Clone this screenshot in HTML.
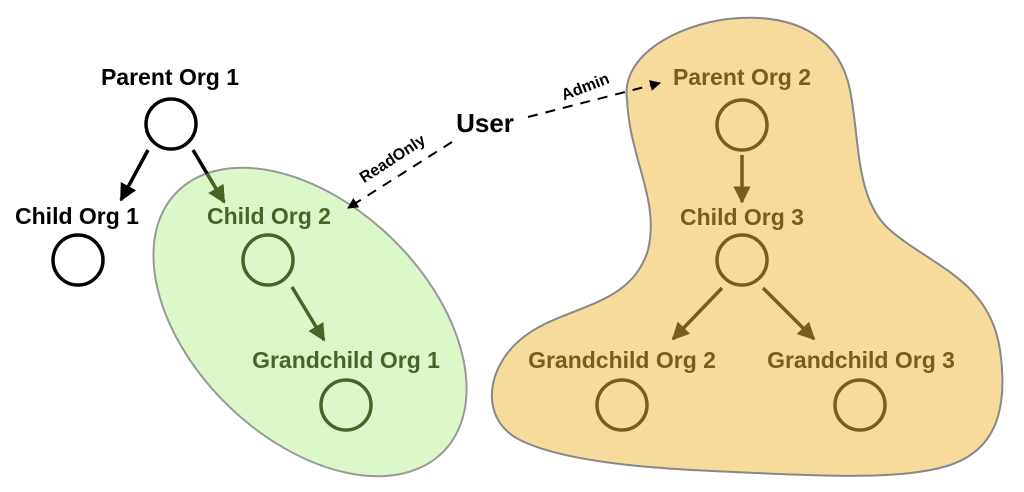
<!DOCTYPE html>
<html><head><meta charset="utf-8"><style>
html,body{margin:0;padding:0;background:#fff;width:1024px;height:492px;overflow:hidden;}
svg{display:block;}
text{font-family:"Liberation Sans",Arial,sans-serif;font-weight:bold;}
</style></head><body>
<svg width="1024" height="492" viewBox="0 0 1024 492" xmlns="http://www.w3.org/2000/svg">
<defs>
<marker id="hk" viewBox="0 0 10 10" refX="9" refY="5" markerWidth="5" markerHeight="5" orient="auto" markerUnits="strokeWidth"><path d="M0,0 L10,5 L0,10 Z" fill="#000"/></marker>
<marker id="hg" viewBox="0 0 10 10" refX="9" refY="5" markerWidth="5" markerHeight="5" orient="auto" markerUnits="strokeWidth"><path d="M0,0 L10,5 L0,10 Z" fill="#4a6428"/></marker>
<marker id="hb" viewBox="0 0 10 10" refX="9" refY="5" markerWidth="5" markerHeight="5" orient="auto" markerUnits="strokeWidth"><path d="M0,0 L10,5 L0,10 Z" fill="#7a5c1e"/></marker>
<marker id="hd" viewBox="0 0 10 10" refX="9" refY="5" markerWidth="11" markerHeight="11" orient="auto" markerUnits="userSpaceOnUse"><path d="M0,0 L10,5 L0,10 Z" fill="#000"/></marker>
<clipPath id="ec"><ellipse cx="310" cy="322" rx="186" ry="117" transform="rotate(44 310 322)"/></clipPath>
</defs>

<ellipse cx="310" cy="322" rx="186" ry="117" transform="rotate(44 310 322)" fill="#dcf8c8" stroke="#999" stroke-width="2"/>

<path d="M627 100 C620 50,690 20,740 18 C800 15,840 40,850 90 C860 140,855 200,890 230 C930 265,990 280,1000 350 C1010 420,990 460,930 470 C880 480,800 475,713 471 C640 468,560 460,520 440 C480 420,485 370,520 340 C560 305,630 310,648 250 C660 200,630 160,627 100 Z" fill="#f6db9c" stroke="#888" stroke-width="2"/>

<text x="170" y="85" font-size="23" text-anchor="middle" fill="#000">Parent Org 1</text>
<circle cx="171" cy="124" r="25" fill="none" stroke="#000" stroke-width="3.5"/>
<line x1="148" y1="150" x2="121" y2="200" stroke="#000" stroke-width="3.5" marker-end="url(#hk)"/>
<line x1="193" y1="150" x2="224" y2="202" stroke="#000" stroke-width="3.5" marker-end="url(#hk)"/>
<g clip-path="url(#ec)"><line x1="193" y1="150" x2="224" y2="202" stroke="#4a6428" stroke-width="3.5" marker-end="url(#hg)"/></g>
<text x="77" y="224" font-size="23" text-anchor="middle" fill="#000">Child Org 1</text>
<circle cx="78" cy="260" r="25" fill="none" stroke="#000" stroke-width="3.5"/>

<text x="269" y="224" font-size="23" text-anchor="middle" fill="#4a6428">Child Org 2</text>
<circle cx="268" cy="260" r="25" fill="none" stroke="#4a6428" stroke-width="3.5"/>
<line x1="292" y1="287" x2="324" y2="340" stroke="#4a6428" stroke-width="3.5" marker-end="url(#hg)"/>
<text x="346" y="368" font-size="23" text-anchor="middle" fill="#4a6428">Grandchild Org 1</text>
<circle cx="346" cy="405" r="25" fill="none" stroke="#4a6428" stroke-width="3.5"/>

<text x="742" y="85" font-size="23" text-anchor="middle" fill="#7a5c1e">Parent Org 2</text>
<circle cx="742" cy="125" r="25" fill="none" stroke="#7a5c1e" stroke-width="3.5"/>
<line x1="742" y1="155" x2="742" y2="202" stroke="#7a5c1e" stroke-width="3.5" marker-end="url(#hb)"/>
<text x="742" y="225" font-size="23" text-anchor="middle" fill="#7a5c1e">Child Org 3</text>
<circle cx="742" cy="260" r="25" fill="none" stroke="#7a5c1e" stroke-width="3.5"/>
<line x1="722" y1="288" x2="673" y2="339" stroke="#7a5c1e" stroke-width="3.5" marker-end="url(#hb)"/>
<line x1="763" y1="288" x2="814" y2="339" stroke="#7a5c1e" stroke-width="3.5" marker-end="url(#hb)"/>
<text x="622" y="368" font-size="23" text-anchor="middle" fill="#7a5c1e">Grandchild Org 2</text>
<circle cx="622" cy="405" r="25" fill="none" stroke="#7a5c1e" stroke-width="3.5"/>
<text x="861" y="368" font-size="23" text-anchor="middle" fill="#7a5c1e">Grandchild Org 3</text>
<circle cx="860" cy="405" r="25" fill="none" stroke="#7a5c1e" stroke-width="3.5"/>

<text x="485" y="132" font-size="26" text-anchor="middle" fill="#000">User</text>
<line x1="452" y1="142" x2="348" y2="208" stroke="#000" stroke-width="2" stroke-dasharray="10 8" marker-end="url(#hd)"/>
<line x1="528" y1="117" x2="660" y2="83" stroke="#000" stroke-width="2" stroke-dasharray="10 8" marker-end="url(#hd)"/>
<text x="392" y="164" font-size="16" text-anchor="middle" fill="#000" transform="rotate(-33 392 158)">ReadOnly</text>
<text x="585" y="92" font-size="16" text-anchor="middle" fill="#000" transform="rotate(-21 585 86)">Admin</text>
</svg>
</body></html>
